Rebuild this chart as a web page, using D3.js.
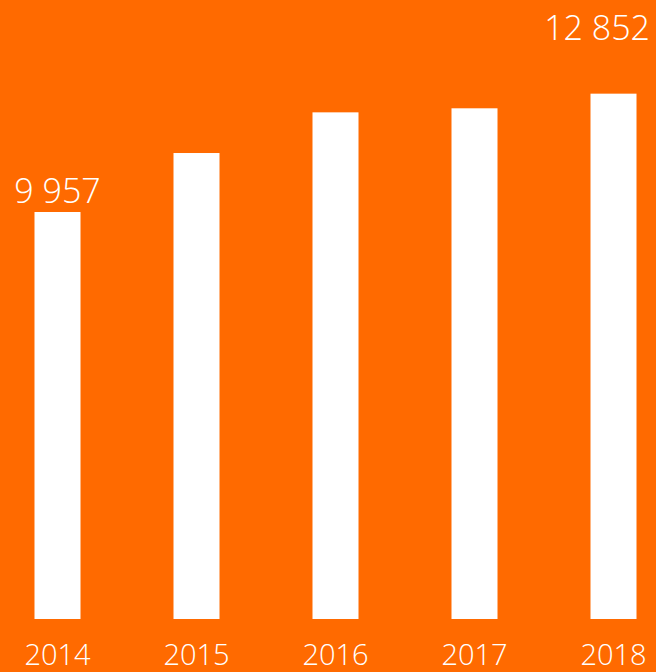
<!DOCTYPE html>
<html>
<head>
<meta charset="utf-8">
<script src="https://cdn.jsdelivr.net/npm/d3@7"></script>
<style>
  html, body { margin: 0; padding: 0; background: #ff6a00; }
  svg { display: block; }
  text { font-family: "Open Sans", "Noto Sans", sans-serif; font-weight: 300; fill: #fff; }
</style>
</head>
<body>
<div id="chart"></div>
<script>
// chart data
var years = ["2014", "2015", "2016", "2017", "2018"];
var values = [9957, 11400, 12395, 12494, 12852];
var valueLabels = ["9 957", "", "", "", "12 852"];

var width = 656, height = 672;
var baseY = 619;

var svg = d3.select("#chart").append("svg")
    .attr("width", width)
    .attr("height", height);

svg.append("rect")
    .attr("width", width)
    .attr("height", height)
    .attr("fill", "#ff6a00");

var x = d3.scaleBand()
    .domain(years)
    .range([-12, 683])
    .paddingInner(93 / 139)
    .paddingOuter(46.5 / 139);

var y = d3.scaleLinear()
    .domain([0, 9957])
    .range([baseY, 212]);

// bars
svg.selectAll("rect.bar")
    .data(years)
    .enter().append("rect")
    .attr("class", "bar")
    .attr("x", d => x(d))
    .attr("width", x.bandwidth())
    .attr("y", (d, i) => y(values[i]))
    .attr("height", (d, i) => baseY - y(values[i]))
    .attr("fill", "#fff");

// year labels
var xAxis = svg.append("g")
    .attr("transform", "translate(0," + baseY + ")")
    .call(d3.axisBottom(x).tickSize(0).tickPadding(25));
xAxis.select(".domain").remove();
xAxis.selectAll("text")
    .attr("font-size", 29)
    .style("font-family", "\"Open Sans\", \"Noto Sans\", sans-serif")
    .style("font-weight", 300)
    .attr("fill", "#fff");

// value labels for first and last bar
svg.append("text")
    .attr("x", x(years[0]) + x.bandwidth() / 2)
    .attr("y", y(values[0]) - 9)
    .attr("font-size", 34)
    .attr("text-anchor", "middle")
    .text(valueLabels[0]);

svg.append("text")
    .attr("x", width - 6)
    .attr("y", y(values[4]) - 54)
    .attr("font-size", 34)
    .attr("text-anchor", "end")
    .text(valueLabels[4]);
</script>
</body>
</html>
